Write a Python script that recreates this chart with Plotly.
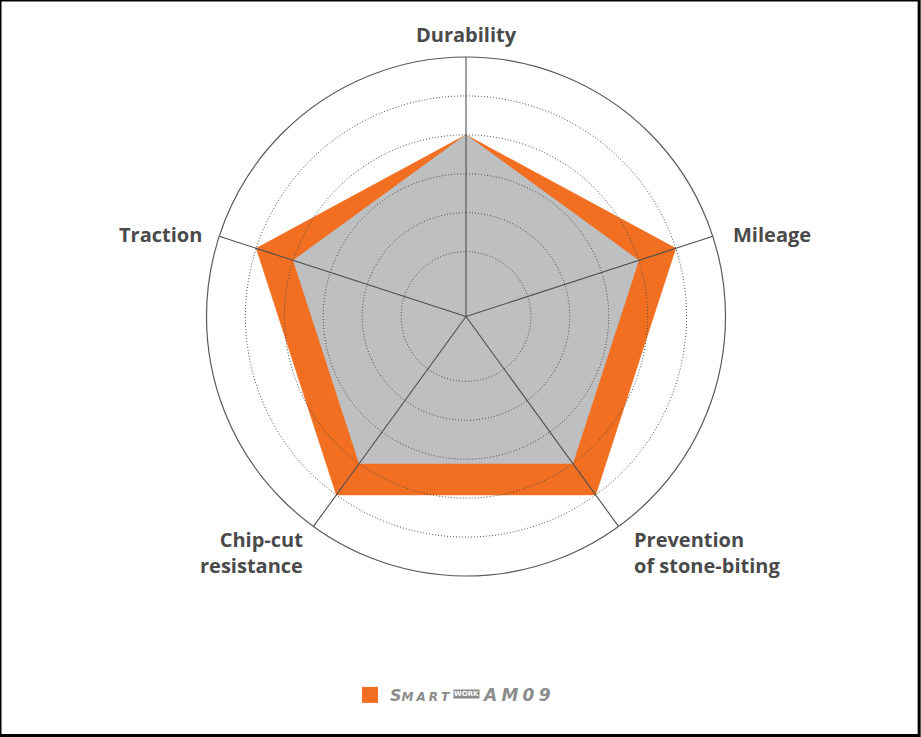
import plotly.graph_objects as go
import numpy as np

categories = ["Durability", "Mileage", "Prevention<br>of stone-biting", "Chip-cut<br>resistance", "Traction"]
am09_values = [70, 85, 85, 85, 85]
reference_values = [70, 70, 70, 70, 70]
grid_levels = [25, 40, 55, 70, 85]
r_max = 100
legend_name = "S<span style='font-size:12px'>" + "\u2005".join("MART") + "</span>"
badge_text = "WORK"
model_text = "\u2005".join("AM09")

ORANGE = "#f26f21"
GRAY_FILL = "#bdbfc1"
LINE = "#4f4f4f"
LABEL = "#4a4a4a"
BRAND = "#8c8c8c"

n = len(categories)
angles = [i * 360 / n for i in range(n)]

def closed(v):
    return list(v) + [v[0]]

fig = go.Figure()

fig.add_trace(go.Scatterpolar(
    r=closed(am09_values), theta=closed(angles), mode="lines", fill="toself",
    fillcolor=ORANGE, line=dict(color=ORANGE, width=0.5), showlegend=False, hoverinfo="skip"))
fig.add_trace(go.Scatterpolar(
    r=closed(reference_values), theta=closed(angles), mode="lines", fill="toself",
    fillcolor=GRAY_FILL, line=dict(color=GRAY_FILL, width=0.5), showlegend=False, hoverinfo="skip"))

# dotted rings above fills
circ_theta = list(np.linspace(0, 360, 361))
for lvl in grid_levels:
    fig.add_trace(go.Scatterpolar(
        r=[lvl] * len(circ_theta), theta=circ_theta, mode="lines",
        line=dict(color=LINE, width=1, dash="1px,2px"), showlegend=False, hoverinfo="skip"))

# spokes
spoke_r, spoke_t = [], []
for a in angles:
    spoke_r += [0, r_max, None]
    spoke_t += [a, a, None]
fig.add_trace(go.Scatterpolar(
    r=spoke_r, theta=spoke_t, mode="lines", line=dict(color=LINE, width=1.1),
    showlegend=False, hoverinfo="skip"))

# legend entry
fig.add_trace(go.Scatterpolar(
    r=[None], theta=[None], mode="markers", name=legend_name,
    marker=dict(symbol="square", size=16, color=ORANGE), showlegend=True))

W, H = 921, 737
cx, cy, R = 466, 316.5, 259.5

def px(x):
    return x / W

def py(y):
    return 1 - y / H

label_pos = [  # (x, y, xanchor, align) in pixels
    (466, 34, "center", "center"),
    (731, 234, "left", "left"),
    (632, 552, "left", "left"),
    (305, 552, "right", "right"),
    (204, 234, "right", "right"),
]
annotations = []
for txt, (x, y, xa, al) in zip(categories, label_pos):
    annotations.append(dict(text="<b>" + txt + "</b>", x=px(x), y=py(y), xref="paper", yref="paper",
                            xanchor=xa, yanchor="middle", align=al, showarrow=False,
                            font=dict(size=20, family="Open Sans", color=LABEL)))
annotations.append(dict(text="<b>" + badge_text + "</b>", x=px(466), y=py(693.5), xref="paper", yref="paper",
                        xanchor="center", yanchor="middle", showarrow=False, bgcolor=BRAND,
                        borderpad=0, font=dict(size=7, family="DejaVu Sans", color="white")))
annotations.append(dict(text=model_text, x=px(481), y=py(695), xref="paper", yref="paper",
                        xanchor="left", yanchor="middle", showarrow=False, borderpad=0,
                        font=dict(size=17, family="DejaVu Sans", color=BRAND, style="italic", weight="bold")))

fig.update_layout(
    width=W, height=H,
    margin=dict(l=0, r=0, t=0, b=0),
    paper_bgcolor="white", plot_bgcolor="white",
    font=dict(family="Open Sans", color=LABEL),
    polar=dict(
        domain=dict(x=[(cx - R) / W, (cx + R) / W], y=[(H - cy - R) / H, (H - cy + R) / H]),
        bgcolor="rgba(0,0,0,0)",
        radialaxis=dict(range=[0, r_max], showgrid=False, showticklabels=False,
                        showline=False, ticks=""),
        angularaxis=dict(type="linear", direction="clockwise", rotation=90,
                         tickmode="array", tickvals=angles, ticktext=categories,
                         showticklabels=False, showgrid=False, showline=True,
                         linecolor="#5a5a5a", linewidth=1.2, ticks=""),
    ),
    showlegend=True,
    legend=dict(orientation="h", x=px(350), y=py(695), xanchor="left", yanchor="middle",
                font=dict(size=16, color=BRAND, family="DejaVu Sans", style="italic", weight="bold"),
                itemwidth=30),
    annotations=annotations,
    shapes=[dict(type="rect", xref="paper", yref="paper", x0=0, y0=0.002, x1=0.998, y1=1,
                 line=dict(color="black", width=3))],
)

fig.write_html("out.html", config={"displayModeBar": False},
               post_script="document.body.style.margin='0';document.body.style.overflow='hidden';")
